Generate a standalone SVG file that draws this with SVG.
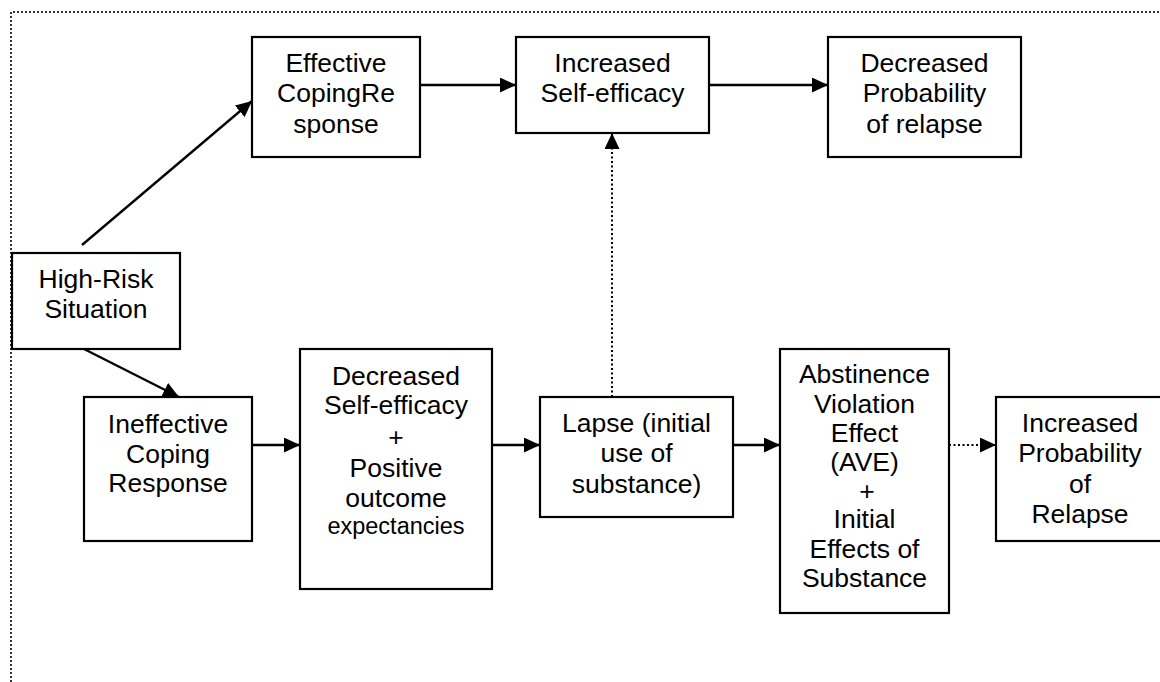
<svg xmlns="http://www.w3.org/2000/svg" width="1160" height="682" viewBox="0 0 1160 682">
<style>
.box{fill:#fff;stroke:#000;stroke-width:2.2}
.t{font-family:"Liberation Sans",Arial,sans-serif;font-size:26.5px;fill:#000;text-anchor:middle}
.s{font-size:23.5px}
.c{fill:none;stroke:#000;stroke-width:2.3}
.d{fill:none;stroke:#000;stroke-width:2;stroke-dasharray:2 2.5}
.frame{fill:none;stroke:#333;stroke-width:2;stroke-dasharray:2 2}
</style>
<defs>
<marker id="ah" markerUnits="userSpaceOnUse" markerWidth="16" markerHeight="15" refX="16" refY="7.5" orient="auto" viewBox="0 0 16 15">
<path d="M0,0 L16,7.5 L0,15 z" fill="#000"/>
</marker>
</defs>
<rect width="1160" height="682" fill="#fff"/>
<path class="frame" d="M11,682 L11,12 L1160,12"/>
<g id="connectors">
<line class="c" x1="82" y1="245" x2="252" y2="101" marker-end="url(#ah)"/>
<line class="c" x1="420" y1="85" x2="516" y2="85" marker-end="url(#ah)"/>
<line class="c" x1="709" y1="85" x2="828" y2="85" marker-end="url(#ah)"/>
<line class="d" x1="612" y1="397" x2="612" y2="133" marker-end="url(#ah)"/>
<line class="c" x1="84" y1="349" x2="179" y2="397" marker-end="url(#ah)"/>
<line class="c" x1="252" y1="445" x2="300" y2="445" marker-end="url(#ah)"/>
<line class="c" x1="492" y1="445" x2="540" y2="445" marker-end="url(#ah)"/>
<line class="c" x1="733" y1="445" x2="780" y2="445" marker-end="url(#ah)"/>
<line class="d" x1="949" y1="445" x2="996" y2="445" marker-end="url(#ah)"/>
</g>
<g id="effective">
<rect class="box" x="252" y="37" width="168" height="120"/>
<text class="t" x="336" y="72">Effective</text>
<text class="t" x="336" y="102">CopingRe</text>
<text class="t" x="336" y="133">sponse</text>
</g>
<g id="increased-se">
<rect class="box" x="516" y="37" width="193" height="96"/>
<text class="t" x="612.5" y="72">Increased</text>
<text class="t" x="612.5" y="102">Self-efficacy</text>
</g>
<g id="decreased-prob">
<rect class="box" x="828" y="37" width="193" height="120"/>
<text class="t" x="924.5" y="72">Decreased</text>
<text class="t" x="924.5" y="102">Probability</text>
<text class="t" x="924.5" y="133">of relapse</text>
</g>
<g id="high-risk">
<rect class="box" x="12" y="253" width="168" height="96"/>
<text class="t" x="96" y="288">High-Risk</text>
<text class="t" x="96" y="318">Situation</text>
</g>
<g id="ineffective">
<rect class="box" x="84" y="397" width="168" height="144"/>
<text class="t" x="168" y="433">Ineffective</text>
<text class="t" x="168" y="463">Coping</text>
<text class="t" x="168" y="492">Response</text>
</g>
<g id="decreased-se">
<rect class="box" x="300" y="349" width="192" height="240"/>
<text class="t" x="396" y="385">Decreased</text>
<text class="t" x="396" y="414">Self-efficacy</text>
<text class="t" x="396" y="446">+</text>
<text class="t" x="396" y="477">Positive</text>
<text class="t" x="396" y="507">outcome</text>
<text class="t s" x="396" y="534">expectancies</text>
</g>
<g id="lapse">
<rect class="box" x="540" y="397" width="193" height="120"/>
<text class="t" x="636.5" y="432">Lapse (initial</text>
<text class="t" x="636.5" y="462">use of</text>
<text class="t" x="636.5" y="493">substance)</text>
</g>
<g id="ave">
<rect class="box" x="780" y="349" width="169" height="264"/>
<text class="t" x="864.5" y="383">Abstinence</text>
<text class="t" x="864.5" y="413">Violation</text>
<text class="t" x="864.5" y="442">Effect</text>
<text class="t" x="864.5" y="471">(AVE)</text>
<text class="t" x="867" y="500">+</text>
<text class="t" x="864.5" y="528">Initial</text>
<text class="t" x="864.5" y="558">Effects of</text>
<text class="t" x="864.5" y="587">Substance</text>
</g>
<g id="increased-prob">
<rect class="box" x="996" y="397" width="168" height="144"/>
<text class="t" x="1080" y="432">Increased</text>
<text class="t" x="1080" y="462">Probability</text>
<text class="t" x="1080" y="493">of</text>
<text class="t" x="1080" y="523">Relapse</text>
</g>
</svg>
